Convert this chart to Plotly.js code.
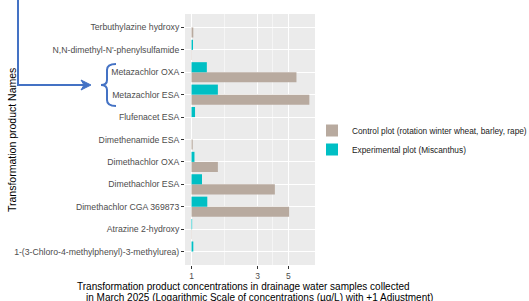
<!DOCTYPE html>
<html>
<head>
<meta charset="utf-8">
<script src="https://cdn.plot.ly/plotly-3.0.1.min.js"></script>
<style>
  html, body { margin: 0; padding: 0; background: #ffffff; }
  #chart { width: 529px; height: 301px; }
</style>
</head>
<body>
<div id="chart"></div>
<script>
// Categories, listed bottom to top as drawn
var categories = [
  "1-(3-Chloro-4-methylphenyl)-3-methylurea)",
  "Atrazine 2-hydroxy",
  "Dimethachlor CGA 369873",
  "Dimethachlor ESA",
  "Dimethachlor OXA",
  "Dimethenamide ESA",
  "Flufenacet ESA",
  "Metazachlor ESA",
  "Metazachlor OXA",
  "N,N-dimethyl-N'-phenylsulfamide",
  "Terbuthylazine hydroxy"
];

// Concentrations (µg/L); bars are drawn from 1 (the +1 adjustment) on a log axis
var controlValues = [0, 0.005, 4.07, 3.0, 0.55, 0.02, 0, 6.1, 4.73, 0.005, 0.03];
var experimentalValues = [0.03, 0.01, 0.30, 0.19, 0.05, 0, 0.06, 0.55, 0.29, 0.025, 0];

var seriesNames = ["Control plot (rotation winter wheat, barley, rape)", "Experimental plot (Miscanthus)"];

var xTickVals = [1, 3, 5];
var xTickText = ["1", "3", "5"];
var xMinorVals = [1.73, 3.87];

var xTitleLines = [
  "Transformation product concentrations in drainage water samples collected",
  "in March 2025 (Logarithmic Scale of concentrations (\u00b5g/L) with +1 Adjustment)"
];
var yTitle = "Transformation product Names";

var FONT = "Liberation Sans, Arial, Helvetica, sans-serif";
var W = 529, H = 301;
var M = {l: 185, r: 214, t: 14, b: 36};
var PW = W - M.l - M.r, PH = H - M.t - M.b;
function px(x) { return (x - M.l) / PW; }
function py(y) { return (H - M.b - y) / PH; }
function path(pts) {
  return pts.map(function (p) {
    if (typeof p === "string") return p;
    return px(p[0]).toFixed(5) + "," + py(p[1]).toFixed(5);
  }).join(" ");
}

var blue = "#4472C4";

var traces = [
  {
    type: "bar", orientation: "h", name: seriesNames[0],
    y: categories, x: controlValues, base: 1,
    marker: {color: "#B8AA9F"}, hoverinfo: "skip"
  },
  {
    type: "bar", orientation: "h", name: seriesNames[1],
    y: categories, x: experimentalValues, base: 1,
    marker: {color: "#00BFC4"}, hoverinfo: "skip"
  }
];

var layout = {
  width: W, height: H,
  margin: {l: M.l, r: M.r, t: M.t, b: M.b, pad: 0, autoexpand: false},
  paper_bgcolor: "#ffffff",
  plot_bgcolor: "#EBEBEB",
  font: {family: FONT, color: "#000000"},
  barmode: "group",
  bargap: 0.1,
  bargroupgap: 0,
  showlegend: true,
  legend: {
    x: px(312), y: py(116), xanchor: "left", yanchor: "top",
    traceorder: "normal", bgcolor: "rgba(0,0,0,0)",
    font: {family: FONT, size: 8.3, color: "#1a1a1a"},
    tracegroupgap: 0
  },
  xaxis: {
    type: "log",
    range: [Math.log10(0.897), Math.log10(7.8)],
    tickmode: "array", tickvals: xTickVals, ticktext: xTickText,
    ticks: "outside", ticklen: 3, tickcolor: "#333333", tickwidth: 1,
    tickfont: {family: FONT, size: 8.5, color: "#4D4D4D"},
    showgrid: true, gridcolor: "#FFFFFF", gridwidth: 1,
    minor: {tickvals: xMinorVals, showgrid: true, gridcolor: "#FFFFFF", gridwidth: 0.5, ticks: ""},
    zeroline: false, showline: false, fixedrange: true
  },
  yaxis: {
    type: "category",
    categoryorder: "array", categoryarray: categories,
    range: [-0.6, categories.length - 0.4],
    ticks: "outside", ticklen: 3, tickcolor: "#333333", tickwidth: 1,
    tickfont: {family: FONT, size: 8.7, color: "#4D4D4D"},
    showgrid: true, gridcolor: "#FFFFFF", gridwidth: 1,
    zeroline: false, showline: false, fixedrange: true
  },
  annotations: [
    {
      text: yTitle, textangle: -90, showarrow: false,
      xref: "paper", yref: "paper", x: px(12), y: py(140),
      xanchor: "center", yanchor: "middle",
      font: {family: FONT, size: 10.5, color: "#000000"}
    },
    {
      text: xTitleLines[0], showarrow: false,
      xref: "paper", yref: "paper", x: px(243), y: py(286),
      xanchor: "center", yanchor: "middle",
      font: {family: FONT, size: 10, color: "#000000"}
    },
    {
      text: xTitleLines[1], showarrow: false,
      xref: "paper", yref: "paper", x: px(259), y: py(297),
      xanchor: "center", yanchor: "middle",
      font: {family: FONT, size: 10, color: "#000000"}
    }
  ],
  shapes: [
    {
      type: "path", xref: "paper", yref: "paper",
      path: "M " + path([[18, -5], "L", [18, 85], "L", [85, 85]]),
      line: {color: blue, width: 2}
    },
    {
      type: "path", xref: "paper", yref: "paper",
      path: "M " + path([[91, 85], "L", [81, 80], "L", [84, 85], "L", [81, 90]]) + " Z",
      line: {color: blue, width: 1}, fillcolor: blue
    },
    {
      type: "path", xref: "paper", yref: "paper",
      path: "M " + path([[116, 64], "Q", [107, 64], [107, 70], "L", [107, 80],
                         "Q", [107, 85], [101, 85], "Q", [107, 85], [107, 90],
                         "L", [107, 100], "Q", [107, 106], [116, 106]]),
      line: {color: blue, width: 2}
    }
  ]
};

Plotly.newPlot("chart", traces, layout, {displayModeBar: false, staticPlot: true});
</script>
</body>
</html>
